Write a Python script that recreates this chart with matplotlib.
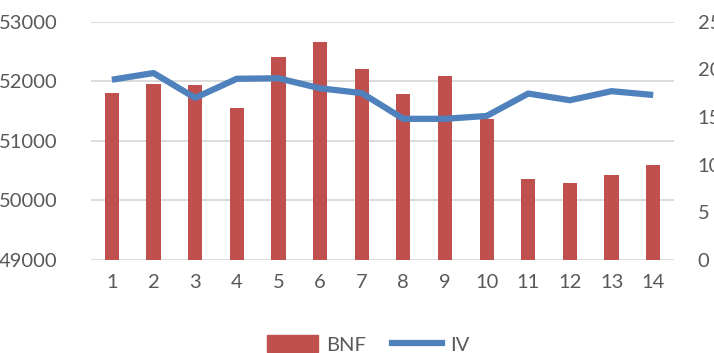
import numpy as np
import matplotlib.pyplot as plt
from matplotlib.lines import Line2D
from matplotlib.patches import Patch

# data
periods = list(range(1, 15))
bnf = [51800, 51950, 51940, 51550, 52400, 52660, 52200,
       51790, 52090, 51370, 50360, 50290, 50430, 50600]
iv = [18.9, 19.6, 17.0, 19.0, 19.05, 18.0, 17.5,
      14.8, 14.8, 15.1, 17.45, 16.75, 17.7, 17.3]
left_ticks = [49000, 50000, 51000, 52000, 53000]
right_ticks = [0, 5, 10, 15, 20, 25]

bar_color = '#C0504D'
line_color = '#4F81BD'
text_color = '#595959'
grid_color = '#D9D9D9'

plt.rcParams['font.family'] = ['Lato', 'DejaVu Sans']

fig = plt.figure(figsize=(7.14, 3.53), dpi=100)
ax = fig.add_axes([0.1275, 0.2635, 0.8165, 0.6755])
x = np.arange(len(periods))

ax.bar(x, [v - left_ticks[0] for v in bnf], bottom=left_ticks[0],
       width=0.34, color=bar_color, zorder=2)
ax.set_ylim(left_ticks[0], left_ticks[-1])
ax.set_yticks(left_ticks)
ax.set_xlim(-0.5, len(periods) - 0.5)
ax.set_xticks(x)
ax.set_xticklabels([str(p) for p in periods])
for y in left_ticks:
    ax.axhline(y, color=grid_color, lw=1.3, zorder=1)
for s in ax.spines.values():
    s.set_visible(False)
ax.tick_params(axis='both', length=0, colors=text_color, labelsize=14.5)
ax.tick_params(axis='y', pad=24)
ax.tick_params(axis='x', pad=10)

ax2 = ax.twinx()
ax2.plot(x, iv, color=line_color, lw=4.5, solid_capstyle='butt',
         solid_joinstyle='round', zorder=3)
ax2.set_ylim(right_ticks[0], right_ticks[-1])
ax2.set_yticks(right_ticks)
for s in ax2.spines.values():
    s.set_visible(False)
ax2.tick_params(axis='y', length=0, colors=text_color, labelsize=14.5, pad=17)

handles = [Patch(color=bar_color, label='BNF'),
           Line2D([0], [0], color=line_color, lw=4.5, label='IV')]
leg = fig.legend(handles=handles, loc='center', bbox_to_anchor=(0.516, 0.024),
                 ncol=2, frameon=False, fontsize=14.5, handlelength=2.5,
                 handleheight=0.9, columnspacing=1.3, handletextpad=0.4)
for t in leg.get_texts():
    t.set_color(text_color)

fig.savefig('out.png', dpi=100)
